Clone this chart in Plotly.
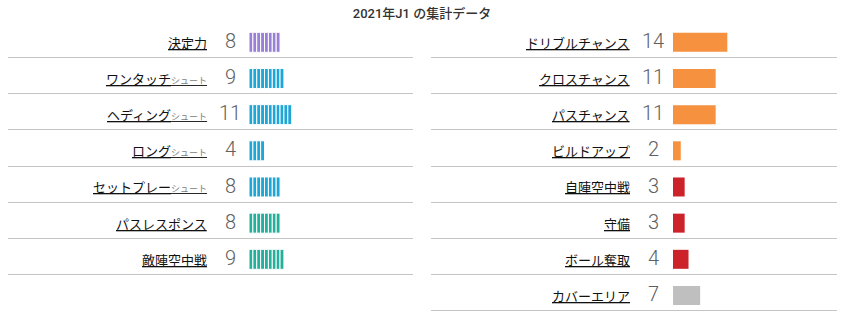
import plotly.graph_objects as go

# ---------------- data ----------------
title_text = "2021年J1 の集計データ"

left_labels = ["決定力", "ワンタッチ", "ヘディング", "ロング", "セットプレー", "パスレスポンス", "敵陣空中戦"]
left_suffix = ["", "シュート", "シュート", "シュート", "シュート", "", ""]
left_values = [8, 9, 11, 4, 8, 8, 9]
left_groups = ["finish", "shoot", "shoot", "shoot", "shoot", "pass", "pass"]

right_labels = ["ドリブルチャンス", "クロスチャンス", "パスチャンス", "ビルドアップ", "自陣空中戦", "守備", "ボール奪取", "カバーエリア"]
right_values = [14, 11, 11, 2, 3, 3, 4, 7]
right_groups = ["chance", "chance", "chance", "chance", "defense", "defense", "defense", "cover"]

group_colors = {
    "finish": "#9a7fd6",
    "shoot": "#1ea6d6",
    "pass": "#24b09a",
    "chance": "#f5913f",
    "defense": "#cc2229",
    "cover": "#bfbfbf",
}

# ---------------- layout constants (pixels) ----------------
W, H = 846, 323
PX_PER_UNIT = 3.88
ROW_PITCH = 36.17
ROW0_CENTER = 42.3
LINE_OFFSET = 15.2 / ROW_PITCH
BAR_H = 20 / ROW_PITCH

L_PANEL = (8, 413)
L_BAR0 = 249
L_LABEL_R = 209
L_NUM_C = 230

R_PANEL = (431, 837)
R_BAR0 = 673
R_LABEL_R = 632
R_NUM_C = 653


def px_to_units(px, bar0):
    return (px - bar0) / PX_PER_UNIT


y_top = (0 - ROW0_CENTER) / ROW_PITCH
y_bot = (H - ROW0_CENTER) / ROW_PITCH

fig = go.Figure()

# left panel: striped bars (one segment per unit)
for g in ["finish", "shoot", "pass"]:
    ys, xs, bases = [], [], []
    for i, (v, gg) in enumerate(zip(left_values, left_groups)):
        if gg != g:
            continue
        for k in range(v):
            ys.append(i)
            xs.append(1)
            bases.append(k)
    fig.add_trace(go.Bar(
        x=xs, y=ys, base=bases, orientation="h", width=BAR_H,
        marker=dict(color=group_colors[g], line=dict(color="white", width=1)),
        xaxis="x", yaxis="y", showlegend=False, hoverinfo="skip",
    ))

# right panel: solid bars
for g in ["chance", "defense", "cover"]:
    ys, xs = [], []
    for i, (v, gg) in enumerate(zip(right_values, right_groups)):
        if gg != g:
            continue
        ys.append(i)
        xs.append(v)
    fig.add_trace(go.Bar(
        x=xs, y=ys, orientation="h", width=19 / ROW_PITCH,
        marker=dict(color=group_colors[g], line=dict(width=0)),
        xaxis="x2", yaxis="y2", showlegend=False, hoverinfo="skip",
    ))

label_font = dict(family="Noto Sans CJK JP", size=13, color="#111111")
num_font = dict(family="Roboto", size=20, color="#606060", weight=300)

annotations = []
for i, (lab, suf, v) in enumerate(zip(left_labels, left_suffix, left_values)):
    txt = lab
    if suf:
        txt += f"<span style='font-size:9px;color:#808080'>{suf}</span>"
    annotations.append(dict(
        x=px_to_units(L_LABEL_R, L_BAR0), y=i, xref="x", yref="y",
        text=f"<u>{txt}</u>", showarrow=False, xanchor="right", yanchor="middle",
        font=label_font,
    ))
    annotations.append(dict(
        x=px_to_units(L_NUM_C, L_BAR0), y=i - 0.04, xref="x", yref="y",
        text=str(v), showarrow=False, xanchor="center", yanchor="middle",
        font=num_font,
    ))

for i, (lab, v) in enumerate(zip(right_labels, right_values)):
    annotations.append(dict(
        x=px_to_units(R_LABEL_R, R_BAR0), y=i, xref="x2", yref="y2",
        text=f"<u>{lab}</u>", showarrow=False, xanchor="right", yanchor="middle",
        font=label_font,
    ))
    annotations.append(dict(
        x=px_to_units(R_NUM_C, R_BAR0), y=i - 0.04, xref="x2", yref="y2",
        text=str(v), showarrow=False, xanchor="center", yanchor="middle",
        font=num_font,
    ))

grid_color = "#c4c4c4"

fig.update_layout(
    width=W, height=H,
    margin=dict(l=0, r=0, t=0, b=0),
    paper_bgcolor="white", plot_bgcolor="white",
    barmode="overlay",
    title=dict(
        text=title_text, x=422 / W, xanchor="center", y=1 - 13 / H, yanchor="middle",
        font=dict(family="Roboto, Noto Sans CJK JP", size=13, color="#333333", weight=500),
    ),
    xaxis=dict(
        domain=[L_PANEL[0] / W, L_PANEL[1] / W],
        range=[px_to_units(L_PANEL[0], L_BAR0), px_to_units(L_PANEL[1], L_BAR0)],
        showgrid=False, zeroline=False, showticklabels=False, fixedrange=True,
        anchor="y",
    ),
    yaxis=dict(
        domain=[0, 1], range=[y_bot, y_top],
        tickmode="array", tickvals=[i + LINE_OFFSET for i in range(len(left_values))],
        showgrid=True, gridcolor=grid_color, gridwidth=1,
        zeroline=False, showticklabels=False, ticks="", fixedrange=True,
        anchor="x",
    ),
    xaxis2=dict(
        domain=[R_PANEL[0] / W, R_PANEL[1] / W],
        range=[px_to_units(R_PANEL[0], R_BAR0), px_to_units(R_PANEL[1], R_BAR0)],
        showgrid=False, zeroline=False, showticklabels=False, fixedrange=True,
        anchor="y2",
    ),
    yaxis2=dict(
        domain=[0, 1], range=[y_bot, y_top],
        tickmode="array", tickvals=[i + LINE_OFFSET for i in range(len(right_values))],
        showgrid=True, gridcolor=grid_color, gridwidth=1,
        zeroline=False, showticklabels=False, ticks="", fixedrange=True,
        anchor="x2",
    ),
    annotations=annotations,
)

fig.write_html("out.html", config={"displayModeBar": False})
